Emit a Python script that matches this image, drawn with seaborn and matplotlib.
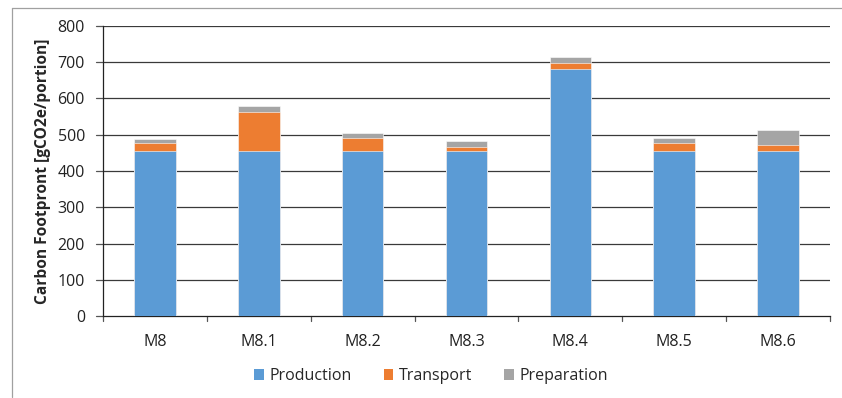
import matplotlib
matplotlib.use("Agg")
import matplotlib.pyplot as plt
from matplotlib.patches import Patch
from matplotlib.lines import Line2D
import numpy as np
import pandas as pd
import seaborn as sns

# Carbon footprint per meal variant, split into life-cycle stages
categories = ["M8", "M8.1", "M8.2", "M8.3", "M8.4", "M8.5", "M8.6"]
production = [455, 455, 455, 455, 680, 454, 455]
transport = [22, 109, 37, 12, 18, 22, 18]
preparation = [11, 14, 14, 15, 16, 14, 39]
y_ticks = [0, 100, 200, 300, 400, 500, 600, 700, 800]

colors = {"Production": "#5B9BD5", "Transport": "#ED7D31", "Preparation": "#A5A5A5"}

sns.set_theme(style="white")
plt.rcParams["font.family"] = ["Open Sans", "DejaVu Sans"]

df = pd.DataFrame({
    "meal": categories,
    "Production": production,
    "Transport": transport,
    "Preparation": preparation,
})
df["cum_prod"] = df["Production"]
df["cum_trans"] = df["cum_prod"] + df["Transport"]
df["cum_prep"] = df["cum_trans"] + df["Preparation"]

fig = plt.figure(figsize=(8.42, 3.98), dpi=100)
ax = fig.add_axes([0.1223, 0.206, 0.8634, 0.7287])

# stacked bars: draw cumulative totals from the top segment down
for col, name in [("cum_prep", "Preparation"), ("cum_trans", "Transport"), ("cum_prod", "Production")]:
    sns.barplot(data=df, x="meal", y=col, color=colors[name], width=0.4,
                saturation=1, ax=ax, zorder=3, edgecolor="white", linewidth=0.4)

FS = 11.5
ax.set_ylim(0, 800)
ax.set_xlim(-0.5, len(categories) - 0.5)
ax.set_yticks(y_ticks)
ax.set_yticklabels([str(t) for t in y_ticks], fontsize=FS, color="#222222")
ax.set_xticks(range(len(categories)))
ax.set_xticklabels(categories, fontsize=FS, color="#222222")
ax.tick_params(axis="x", length=0, pad=13)
ax.tick_params(axis="y", length=0, pad=13)

# horizontal gridlines
for t in y_ticks[1:]:
    ax.axhline(t, color="#3a3a3a", lw=0.9, zorder=1)
ax.set_xlabel("")
ax.set_ylabel("Carbon Footpront [gCO2e/portion]", fontsize=11.2,
              fontweight="bold", labelpad=5)

for s in ["top", "right"]:
    ax.spines[s].set_visible(False)
ax.spines["left"].set_color("#222222")
ax.spines["left"].set_linewidth(0.9)
ax.spines["bottom"].set_color("#222222")
ax.spines["bottom"].set_linewidth(0.9)

# y tick stubs to the left of the axis
trans_y = ax.get_yaxis_transform()
for t in y_ticks:
    ax.add_line(Line2D([-0.009, 0], [t, t], transform=trans_y, color="#555555",
                       lw=0.9, clip_on=False))
# x tick stubs at category boundaries
trans_x = ax.get_xaxis_transform()
for b in np.arange(-0.5, len(categories), 1.0):
    ax.add_line(Line2D([b, b], [0, -0.018], transform=trans_x, color="#555555",
                       lw=0.9, clip_on=False))

handles = [Patch(facecolor=colors[n], edgecolor="none", label=n)
           for n in ["Production", "Transport", "Preparation"]]
fig.legend(handles=handles, loc="center", bbox_to_anchor=(0.512, 0.055), ncol=3,
           frameon=False, fontsize=FS, handlelength=0.6, handleheight=0.6,
           handletextpad=0.35, columnspacing=2.0)

# light chart frame
fig.add_artist(Line2D([12 / 842, 12 / 842], [1 - 8 / 398, 1 - 397 / 398],
                      transform=fig.transFigure, color="#a0a0a0", lw=0.9))
fig.add_artist(Line2D([12 / 842, 1.0], [1 - 8 / 398, 1 - 8 / 398],
                      transform=fig.transFigure, color="#a0a0a0", lw=0.9))

fig.savefig("out.png", dpi=100)
